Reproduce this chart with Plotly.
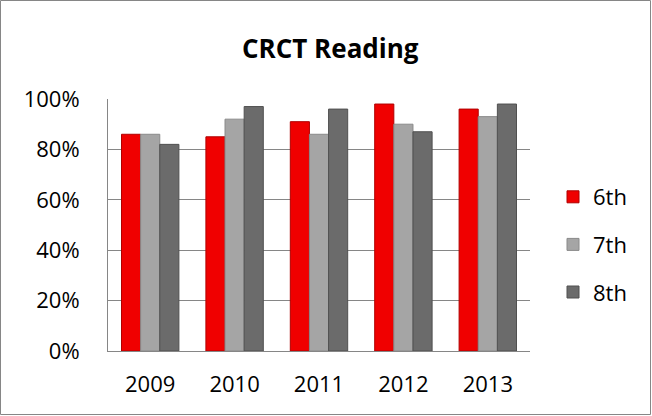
import plotly.graph_objects as go

years = ["2009", "2010", "2011", "2012", "2013"]
grade6 = [0.86, 0.85, 0.91, 0.98, 0.96]
grade7 = [0.86, 0.92, 0.86, 0.90, 0.93]
grade8 = [0.82, 0.97, 0.96, 0.87, 0.98]
series_names = ["6th", "7th", "8th"]
colors = ["#f00000", "#a5a5a5", "#6b6b6b"]
line_colors = ["#b00000", "#8a8a8a", "#505050"]

W, H = 652, 416
x0, x1 = 108, 530
y_top, y_bot = 99, 351

fig = go.Figure()
for i, (name, vals) in enumerate(zip(series_names, [grade6, grade7, grade8])):
    fig.add_trace(go.Bar(
        x=years, y=vals, name=name,
        marker=dict(color=colors[i], line=dict(color=line_colors[i], width=1)),
        legendgroup=name,
    ))

font_family = "'Open Sans', sans-serif"
fig.update_layout(
    width=W, height=H,
    margin=dict(l=0, r=0, t=0, b=0),
    paper_bgcolor="white", plot_bgcolor="white",
    barmode="group", bargap=0.32, bargroupgap=0,
    font=dict(family=font_family, size=22, color="#000000"),
    xaxis=dict(
        domain=[x0 / W, x1 / W], automargin=False,
        showline=True, linecolor="#868686", linewidth=1,
        ticks="outside", ticklen=14, tickcolor="rgba(0,0,0,0)",
        tickfont=dict(size=22),
        showgrid=False, fixedrange=True,
    ),
    yaxis=dict(
        domain=[1 - y_bot / H, 1 - y_top / H], automargin=False,
        range=[0, 1], tickvals=[0, 0.2, 0.4, 0.6, 0.8, 1.0],
        tickformat=".0%",
        showline=True, linecolor="#868686", linewidth=1,
        showgrid=True, gridcolor="#868686", gridwidth=1,
        ticks="outside", ticklen=23, tickcolor="rgba(0,0,0,0)",
        tickfont=dict(size=22), zeroline=False, fixedrange=True,
    ),
    legend=dict(
        x=553 / W, y=1 - 176 / H, xanchor="left", yanchor="top",
        font=dict(size=22), tracegroupgap=16, bgcolor="rgba(0,0,0,0)",
        itemwidth=30,
    ),
    showlegend=True,
    annotations=[dict(
        text="<b>CRCT Reading</b>", x=330 / W, y=1 - 48 / H,
        xref="paper", yref="paper", xanchor="center", yanchor="middle",
        showarrow=False, font=dict(size=26, family=font_family),
    )],
    shapes=[dict(
        type="rect", xref="paper", yref="paper",
        x0=0.5 / W, x1=1 - 1.5 / W, y0=1.5 / H, y1=1 - 0.5 / H,
        line=dict(color="#868686", width=1), fillcolor="rgba(0,0,0,0)",
        layer="below",
    )],
)

fig.write_html("out.html", config={"displayModeBar": False},
               post_script="document.body.style.margin='0px';")
